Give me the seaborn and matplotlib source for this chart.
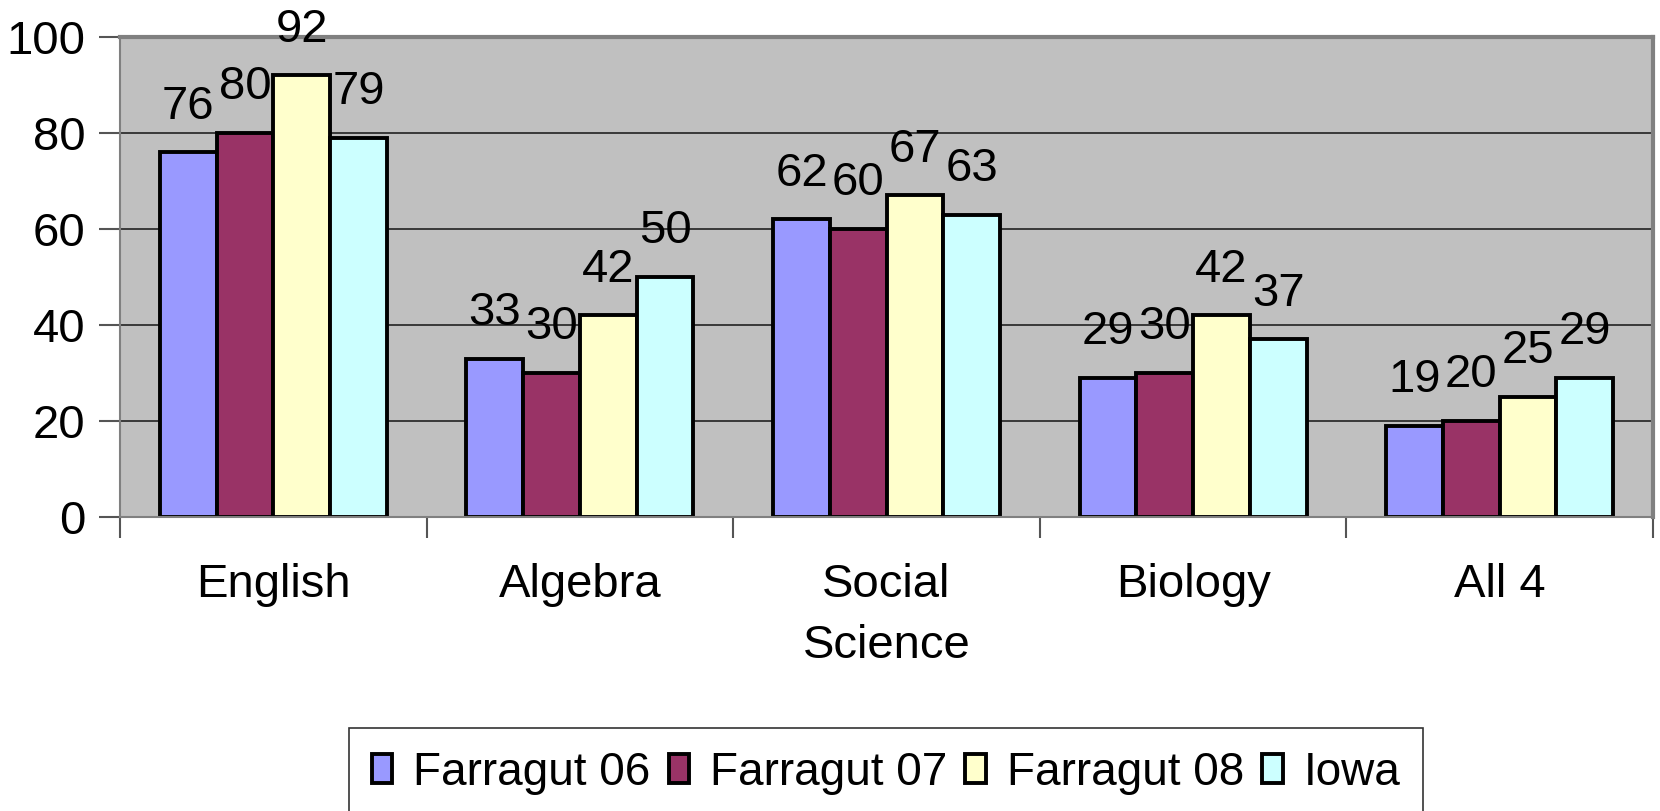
import pandas as pd
import numpy as np
import matplotlib
matplotlib.use('Agg')
import matplotlib.pyplot as plt
import seaborn as sns

subjects = ['English', 'Algebra', 'Social\nScience', 'Biology', 'All 4']
schools = ['Farragut 06', 'Farragut 07', 'Farragut 08', 'Iowa']
farragut_06 = [76, 33, 62, 29, 19]
farragut_07 = [80, 30, 60, 30, 20]
farragut_08 = [92, 42, 67, 42, 25]
iowa = [79, 50, 63, 37, 29]
colors = ['#9999FF', '#993366', '#FFFFCC', '#CCFFFF']

#%%

df = pd.DataFrame({'subject': subjects * 4,
                   'school': np.repeat(schools, len(subjects)),
                   'score': farragut_06 + farragut_07 + farragut_08 + iowa})

plt.rcParams['font.family'] = ['Liberation Sans', 'DejaVu Sans']

fig = plt.figure(figsize=(16.6, 8.11), dpi=100)
ax = fig.add_axes([0.0723, 0.3625, 0.9235, 0.5919])

sns.barplot(data=df, x='subject', y='score', hue='school', palette=colors,
            saturation=1, width=0.74, edgecolor='black', linewidth=2.8,
            errorbar=None, ax=ax)

ax.set_facecolor('#C0C0C0')
ax.set_axisbelow(True)
ax.yaxis.grid(True, color='#222222', linewidth=1.2)
ax.set_ylim(0, 100)
ax.set_xlim(-0.5, len(subjects) - 0.5)
ax.set_yticks([0, 20, 40, 60, 80, 100])
ax.set_xlabel('')
ax.set_ylabel('')

for c in ax.containers:
    ax.bar_label(c, fmt='%d', padding=17, fontsize=34)

ax.tick_params(axis='y', labelsize=34, length=15, width=1.5, color='#555555', pad=10)
ax.tick_params(axis='x', labelsize=34, length=0, pad=33)
for lbl in ax.get_xticklabels():
    lbl.set_linespacing(1.5)
ax.set_xticks(np.arange(-0.5, len(subjects)), minor=True)
ax.tick_params(axis='x', which='minor', length=15, width=1.5, color='#555555')

for s in ['left', 'bottom']:
    ax.spines[s].set_color('#808080')
    ax.spines[s].set_linewidth(1.5)
for s in ['top', 'right']:
    ax.spines[s].set_color('#808080')
    ax.spines[s].set_linewidth(3)

handles, labels = ax.get_legend_handles_labels()
ax.legend(handles, labels, ncol=4, loc='upper center',
          bbox_to_anchor=(886 / 1660, 1 - 728 / 811), bbox_transform=fig.transFigure,
          fontsize=33, frameon=True, fancybox=False, edgecolor='black',
          handlelength=0.45, handleheight=0.6, handletextpad=0.45,
          columnspacing=0.4, borderpad=0.5, borderaxespad=0)
ax.get_legend().get_frame().set_linewidth(1.2)

plt.savefig('out.png', dpi=100)
